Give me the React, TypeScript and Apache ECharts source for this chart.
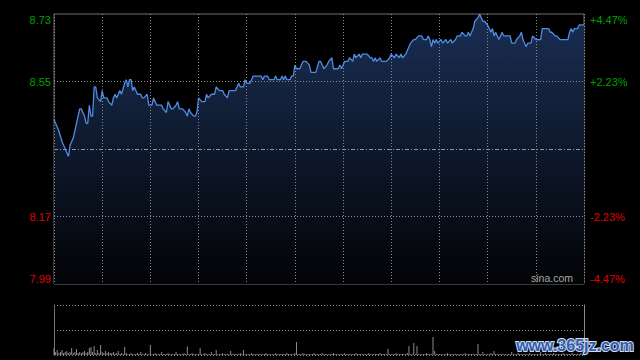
import React, { useEffect, useRef } from "react";
import * as echarts from "echarts";

// Trading minutes since 09:30 (HK session: 09:30-12:00, 13:00-16:00 => 330 minutes)
const minutes = [
  0, 2, 3, 5, 6, 8, 9, 10, 12, 14, 16, 17, 19, 20, 21, 22, 23, 24, 25, 26, 27, 29,
  30, 31, 33, 34, 36, 37, 38, 39, 41, 42, 44, 45, 46, 47, 48, 49, 50, 52, 54, 55, 56, 58, 59,
  61, 62, 64, 65, 67, 68, 70, 71, 73, 74, 76, 77, 78, 80, 82, 83, 84, 85, 87, 88, 89,
  90, 92, 94, 95, 96, 98, 100, 101, 103, 105, 106, 108, 109, 111, 113, 115, 116, 118, 119,
  120, 122, 123, 124, 127, 129, 130, 131, 133, 134, 137, 138, 139, 141, 142, 143, 144, 145, 147, 148, 149,
  150, 151, 153, 155, 157, 159, 160, 161, 163, 165, 166, 167, 168, 170, 171, 173, 174, 176, 177, 178, 179,
  181, 183, 184, 186, 187, 188, 190, 191, 192, 194, 195, 197, 198, 199, 200, 201, 203, 204, 206, 207, 209,
  210, 212, 213, 215, 216, 217, 219, 220, 221, 222, 224, 225, 227, 229, 230, 232, 233, 234, 235, 236, 237, 238, 239,
  241, 242, 244, 245, 247, 248, 250, 251, 253, 254, 256, 257, 258, 259, 261, 262, 264, 265, 266, 267, 268,
  270, 271, 272, 273, 274, 275, 276, 277, 278, 279, 280, 282, 284, 285, 287, 288, 290, 291, 292, 293, 294, 295, 297, 298,
  300, 301, 303, 304, 306, 308, 309, 310, 312, 313, 315, 316, 318, 320, 321, 322, 323, 324, 326, 327, 328, 330,
];

const prices = [
  8.44, 8.42, 8.41, 8.38, 8.37, 8.35, 8.34, 8.37, 8.39, 8.43, 8.47, 8.47, 8.45, 8.43, 8.43, 8.48, 8.45, 8.45, 8.53, 8.53, 8.5, 8.49,
  8.52, 8.5, 8.5, 8.49, 8.48, 8.5, 8.51, 8.5, 8.52, 8.51, 8.54, 8.55, 8.53, 8.55, 8.55, 8.52, 8.53, 8.51, 8.51, 8.5, 8.5, 8.51, 8.48,
  8.48, 8.5, 8.48, 8.48, 8.48, 8.47, 8.46, 8.49, 8.47, 8.47, 8.48, 8.49, 8.47, 8.47, 8.46, 8.45, 8.47, 8.46, 8.45, 8.45, 8.46,
  8.5, 8.49, 8.49, 8.51, 8.5, 8.51, 8.51, 8.53, 8.52, 8.52, 8.51, 8.5, 8.52, 8.52, 8.52, 8.54, 8.53, 8.53, 8.55,
  8.54, 8.54, 8.55, 8.56, 8.56, 8.56, 8.55, 8.56, 8.56, 8.55, 8.55, 8.56, 8.55, 8.55, 8.56, 8.55, 8.56, 8.55, 8.55, 8.56, 8.56,
  8.59, 8.58, 8.58, 8.6, 8.6, 8.59, 8.57, 8.57, 8.57, 8.6, 8.6, 8.59, 8.58, 8.59, 8.6, 8.61, 8.58, 8.58, 8.58, 8.59, 8.58,
  8.6, 8.6, 8.61, 8.6, 8.62, 8.61, 8.62, 8.61, 8.62, 8.62, 8.62, 8.61, 8.61, 8.6, 8.61, 8.6, 8.61, 8.6, 8.6, 8.6, 8.61,
  8.62, 8.61, 8.62, 8.61, 8.62, 8.61, 8.62, 8.63, 8.64, 8.65, 8.66, 8.66, 8.67, 8.67, 8.66, 8.66, 8.67, 8.66, 8.64, 8.66, 8.65, 8.66, 8.65,
  8.66, 8.65, 8.66, 8.65, 8.66, 8.65, 8.66, 8.67, 8.67, 8.68, 8.67, 8.67, 8.68, 8.67, 8.69, 8.71, 8.72, 8.73, 8.72, 8.71, 8.71,
  8.7, 8.69, 8.68, 8.69, 8.67, 8.68, 8.67, 8.66, 8.67, 8.68, 8.67, 8.67, 8.67, 8.65, 8.65, 8.66, 8.67, 8.68, 8.66, 8.65, 8.64, 8.65, 8.65, 8.67,
  8.66, 8.66, 8.66, 8.69, 8.69, 8.69, 8.68, 8.68, 8.67, 8.67, 8.66, 8.66, 8.66, 8.66, 8.68, 8.69, 8.68, 8.69, 8.69, 8.7, 8.7, 8.7,
];

// Volume per minute (index = minute)
const volumes = [
  14, 6, 10, 4, 6, 10, 4, 6, 8, 4,
  6, 14, 4, 6, 12, 4, 6, 4, 6, 8,
  4, 6, 14, 16, 6, 18, 4, 10, 4, 20,
  6, 4, 8, 4, 6, 4, 4, 6, 2, 4,
  8, 2, 4, 2, 16, 4, 2, 2, 4, 2,
  2, 2, 4, 2, 6, 2, 2, 4, 2, 2,
  20, 2, 2, 4, 2, 2, 2, 6, 2, 2,
  2, 4, 2, 2, 2, 2, 6, 2, 2, 2,
  2, 4, 2, 17, 2, 2, 4, 2, 2, 2,
  2, 14, 2, 2, 4, 2, 2, 2, 6, 2,
  2, 10, 2, 2, 2, 4, 2, 2, 2, 2,
  8, 2, 2, 2, 2, 2, 4, 2, 10, 2,
  2, 2, 2, 4, 2, 2, 2, 2, 2, 2,
  2, 2, 4, 2, 2, 2, 2, 2, 4, 2,
  2, 2, 2, 2, 2, 4, 2, 2, 2, 2,
  4, 26, 2, 2, 2, 4, 2, 2, 2, 2,
  2, 2, 4, 2, 2, 2, 2, 4, 2, 2,
  2, 2, 2, 2, 4, 2, 2, 2, 2, 2,
  2, 4, 2, 2, 2, 2, 2, 2, 4, 2,
  2, 2, 2, 2, 2, 2, 4, 2, 2, 2,
  2, 2, 2, 4, 2, 2, 2, 2, 12, 2,
  2, 2, 2, 4, 2, 2, 2, 2, 2, 2,
  4, 18, 2, 2, 24, 2, 18, 2, 2, 2,
  2, 2, 4, 2, 2, 2, 36, 8, 2, 2,
  2, 2, 2, 2, 2, 4, 2, 2, 2, 2,
  2, 2, 2, 2, 2, 2, 4, 2, 2, 2,
  2, 2, 2, 2, 22, 2, 2, 6, 2, 2,
  2, 2, 4, 2, 8, 2, 2, 2, 2, 2,
  2, 2, 2, 2, 2, 6, 2, 2, 2, 4,
  2, 2, 2, 2, 2, 2, 4, 2, 2, 2,
  2, 2, 2, 6, 2, 2, 4, 2, 2, 2,
  2, 4, 2, 2, 2, 2, 2, 4, 2, 2,
  2, 2, 2, 4, 2, 2, 2, 2, 4, 2,
  2,
];

const priceMin = 7.99;
const priceMax = 8.73;
const priceStep = 0.185;
const priceTickLabels = ["7.99", "8.17", "", "8.55", "8.73"];
const pctTickLabels = ["-4.47%", "-2.23%", "", "+2.23%", "+4.47%"];
const tickColors = ["#e00000", "#e00000", "#000000", "#00a000", "#00a000"];

const sessionMinutes = 330;
const halfHour = 30;
const volMax = 100;
const volStep = 50;

const FONT = '"Liberation Sans", Arial, sans-serif';

const tickIndex = (v: number) => Math.round((v - priceMin) / priceStep);

export default function App() {
  const ref = useRef<HTMLDivElement>(null);

  useEffect(() => {
    if (!ref.current) return;
    const chart = echarts.init(ref.current, null, { renderer: "svg" });
    const priceData = minutes.map((m, i) => [m, prices[i]]);
    const volData = volumes.map((v, i) => [i, v]);
    const dotted = [1, 2];

    const option: any = {
      animation: false,
      backgroundColor: "#000000",
      grid: [
        { left: 54, top: 14, width: 530, height: 270, show: true, borderColor: "#707070", borderWidth: 1, backgroundColor: "transparent" },
        { left: 54, top: 305, width: 530, height: 50, show: false },
      ],
      xAxis: [
        {
          type: "value", gridIndex: 0, min: 0, max: sessionMinutes, interval: halfHour, z: 3,
          axisLine: { show: false }, axisTick: { show: false }, axisLabel: { show: false },
          splitLine: { show: true, lineStyle: { color: "#8a8a8a", type: dotted, width: 1 } },
        },
        {
          type: "value", gridIndex: 1, min: 0, max: sessionMinutes, interval: halfHour,
          axisLine: { show: false }, axisTick: { show: false }, axisLabel: { show: false }, splitLine: { show: false },
        },
      ],
      yAxis: [
        {
          type: "value", gridIndex: 0, position: "left", min: priceMin, max: priceMax, interval: priceStep, z: 3,
          axisLine: { show: false }, axisTick: { show: false },
          axisLabel: {
            margin: 3, fontSize: 11, fontFamily: FONT,
            formatter: (v: number) => priceTickLabels[tickIndex(v)] ?? "",
            color: (v: number) => tickColors[tickIndex(v)] ?? "#888",
            verticalAlignMinLabel: "bottom", verticalAlignMaxLabel: "top",
          },
          splitLine: {
            show: true,
            lineStyle: { color: ["rgba(0,0,0,0)", "#8a8a8a", "rgba(0,0,0,0)", "#8a8a8a", "rgba(0,0,0,0)"], type: dotted, width: 1 },
          },
        },
        {
          type: "value", gridIndex: 0, position: "right", min: priceMin, max: priceMax, interval: priceStep, z: 3,
          axisLine: { show: false }, axisTick: { show: false },
          axisLabel: {
            margin: 6, fontSize: 11, fontFamily: FONT,
            formatter: (v: number) => pctTickLabels[tickIndex(v)] ?? "",
            color: (v: number) => tickColors[tickIndex(v)] ?? "#888",
            verticalAlignMinLabel: "bottom", verticalAlignMaxLabel: "top",
          },
          splitLine: {
            show: true,
            lineStyle: { color: ["rgba(0,0,0,0)", "rgba(0,0,0,0)", "#8a96aa", "rgba(0,0,0,0)", "rgba(0,0,0,0)"], type: [4, 2, 1, 2], width: 1 },
          },
        },
        {
          type: "value", gridIndex: 1, position: "left", min: 0, max: volMax, interval: volStep,
          axisLine: { show: true, lineStyle: { color: "#707070" } }, axisTick: { show: false }, axisLabel: { show: false },
          splitLine: { show: true, lineStyle: { color: "#8a8a8a", type: dotted, width: 1 } },
        },
        {
          type: "value", gridIndex: 1, position: "right", min: 0, max: volMax, interval: volStep,
          axisLine: { show: true, lineStyle: { color: "#8a8a8a" } }, axisTick: { show: false }, axisLabel: { show: false },
          splitLine: { show: false },
        },
      ],
      series: [
        {
          type: "line", xAxisIndex: 0, yAxisIndex: 0, data: priceData, symbol: "none", z: 1,
          lineStyle: { width: 0 },
          areaStyle: {
            origin: "start",
            color: new echarts.graphic.LinearGradient(0, 0, 0, 1, [
              { offset: 0, color: "#1a2e54" },
              { offset: 1, color: "#020305" },
            ]),
            opacity: 1,
          },
          silent: true,
        },
        {
          type: "line", xAxisIndex: 0, yAxisIndex: 0, data: priceData, symbol: "none", z: 5,
          lineStyle: { color: "#4f8ce2", width: 1.3 },
          silent: true,
        },
        {
          type: "bar", xAxisIndex: 1, yAxisIndex: 2, data: volData, barWidth: 1,
          itemStyle: { color: "#8c8c8c" }, silent: true,
        },
      ],
      graphic: [
        {
          type: "text", x: 573, y: 278, z: 10,
          style: { text: "sina.com", fill: "#a8a8a8", font: `10.5px ${FONT}`, align: "right", verticalAlign: "middle" },
        },
        {
          type: "text", x: 575, y: 345, z: 100,
          style: {
            text: "www.365jz.com", fill: "#2f5db0", stroke: "#cfdbee", lineWidth: 2,
            font: `bold 16px ${FONT}`, align: "center", verticalAlign: "middle",
          },
        },
      ],
    };

    chart.setOption(option);
    return () => chart.dispose();
  }, []);

  return <div ref={ref} style={{ position: "fixed", left: 0, top: 0, width: 640, height: 360 }} />;
}
